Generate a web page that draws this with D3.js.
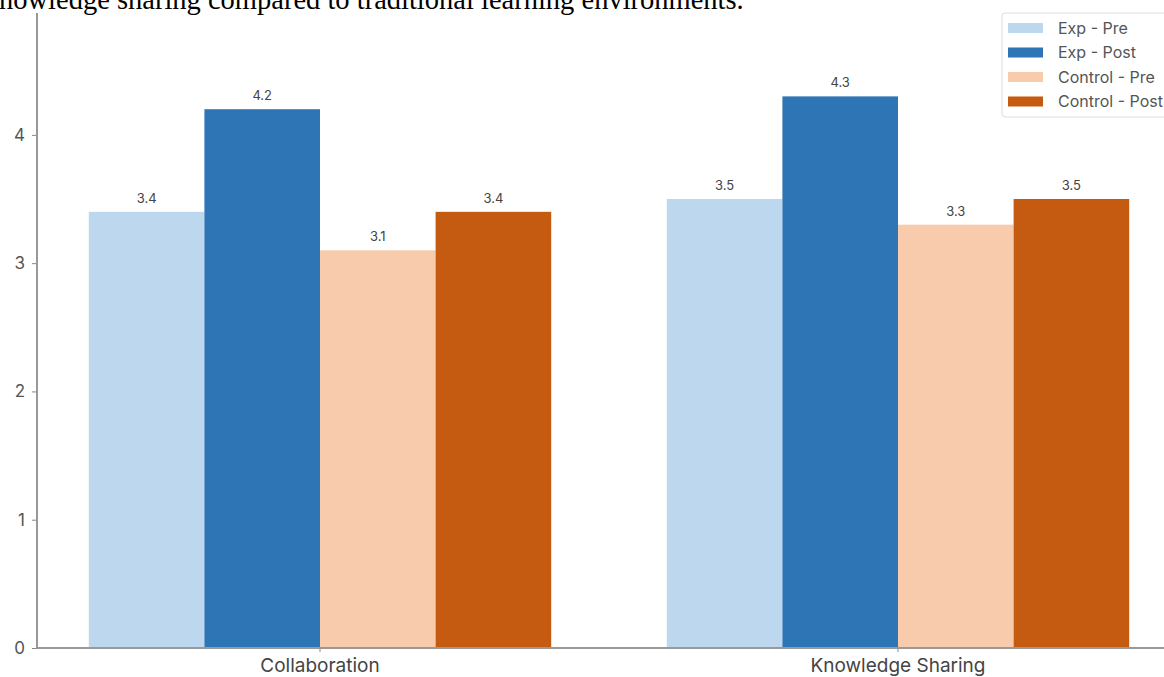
<!DOCTYPE html>
<html>
<head>
<meta charset="utf-8">
<script src="https://cdn.jsdelivr.net/npm/d3@7"></script>
<style>
  body { margin: 0; background: #fff; overflow: hidden; }
  svg { display: block; }
</style>
</head>
<body>
<div id="chart"></div>
<script>
// data
var categories = ["Collaboration", "Knowledge Sharing"];
var seriesNames = ["Exp - Pre", "Exp - Post", "Control - Pre", "Control - Post"];
var expPre = [3.4, 3.5];
var expPost = [4.2, 4.3];
var controlPre = [3.1, 3.3];
var controlPost = [3.4, 3.5];
var yTicks = [0, 1, 2, 3, 4];
var colors = ["#bdd7ee", "#2e75b6", "#f8cbad", "#c55a11"];

var seriesValues = [expPre, expPost, controlPre, controlPost];

var width = 1164, height = 677;
var axisX = 37, axisBottom = 648, axisTop = 13;
var font = "Inter, 'Open Sans', sans-serif";

var svg = d3.select("#chart")
  .append("svg")
  .attr("width", width)
  .attr("height", height);

// cut-off caption line above the chart
svg.append("text")
  .attr("x", -1)
  .attr("y", 9)
  .style("font-family", "'Liberation Serif', 'Times New Roman', serif")
  .style("font-size", "28.5px")
  .style("fill", "#000")
  .text("nowledge sharing compared to traditional learning environments.");

var x0 = d3.scaleBand()
  .domain(categories)
  .range([31, 1187])
  .paddingInner(0.2)
  .paddingOuter(0.1);

var x1 = d3.scaleBand()
  .domain(seriesNames)
  .range([0, x0.bandwidth()]);

var y = d3.scaleLinear()
  .domain([0, 4.95])
  .range([axisBottom, axisTop]);

// bars
var groups = svg.selectAll(".grp")
  .data(categories)
  .enter()
  .append("g")
  .attr("transform", function(d) { return "translate(" + x0(d) + ",0)"; });

groups.selectAll("rect")
  .data(function(d, i) {
    return seriesNames.map(function(s, j) { return {key: s, idx: j, value: seriesValues[j][i]}; });
  })
  .enter()
  .append("rect")
  .attr("x", function(d) { return x1(d.key); })
  .attr("y", function(d) { return y(d.value); })
  .attr("width", x1.bandwidth())
  .attr("height", function(d) { return axisBottom - y(d.value); })
  .style("fill", function(d) { return colors[d.idx]; });

groups.selectAll(".val")
  .data(function(d, i) {
    return seriesNames.map(function(s, j) { return {key: s, value: seriesValues[j][i]}; });
  })
  .enter()
  .append("text")
  .attr("x", function(d) { return x1(d.key) + x1.bandwidth() / 2; })
  .attr("y", function(d) { return y(d.value) - 9; })
  .attr("text-anchor", "middle")
  .style("font-family", font)
  .style("font-size", "13px")
  .style("fill", "#444")
  .text(function(d) { return d.value.toFixed(1); });

// y axis
var yAxis = svg.append("g")
  .attr("transform", "translate(" + axisX + ",0)")
  .call(d3.axisLeft(y).tickValues(yTicks).tickSize(5).tickPadding(7).tickFormat(d3.format("d")));
yAxis.select(".domain").remove();
yAxis.selectAll(".tick line").attr("stroke", "#888");
yAxis.selectAll(".tick text")
  .style("font-family", font)
  .style("font-size", "17px")
  .style("fill", "#555");

svg.append("line")
  .attr("x1", axisX).attr("x2", axisX)
  .attr("y1", axisTop).attr("y2", axisBottom)
  .attr("stroke", "#999")
  .attr("stroke-width", 2);

// x axis
var xAxis = svg.append("g")
  .attr("transform", "translate(0," + axisBottom + ")")
  .call(d3.axisBottom(x0).tickSize(4).tickPadding(7));
xAxis.select(".domain").remove();
xAxis.selectAll(".tick line").attr("stroke", "#888");
xAxis.selectAll(".tick text")
  .style("font-family", font)
  .style("font-size", "19px")
  .style("fill", "#444");

svg.append("line")
  .attr("x1", axisX - 1).attr("x2", width)
  .attr("y1", axisBottom).attr("y2", axisBottom)
  .attr("stroke", "#999")
  .attr("stroke-width", 2);

// legend
var legend = svg.append("g").attr("transform", "translate(1002,13)");
legend.append("rect")
  .attr("width", 180)
  .attr("height", 104)
  .attr("rx", 3)
  .style("fill", "#fff")
  .style("stroke", "#ddd");

var rows = legend.selectAll(".row")
  .data(seriesNames)
  .enter()
  .append("g")
  .attr("transform", function(d, i) { return "translate(0," + (15 + i * 24.5) + ")"; });

rows.append("rect")
  .attr("x", 6)
  .attr("y", -5)
  .attr("width", 35)
  .attr("height", 10)
  .style("fill", function(d, i) { return colors[i]; });

rows.append("text")
  .attr("x", 56)
  .attr("y", 5.5)
  .style("font-family", font)
  .style("font-size", "16px")
  .style("fill", "#555")
  .text(function(d) { return d; });
</script>
</body>
</html>
